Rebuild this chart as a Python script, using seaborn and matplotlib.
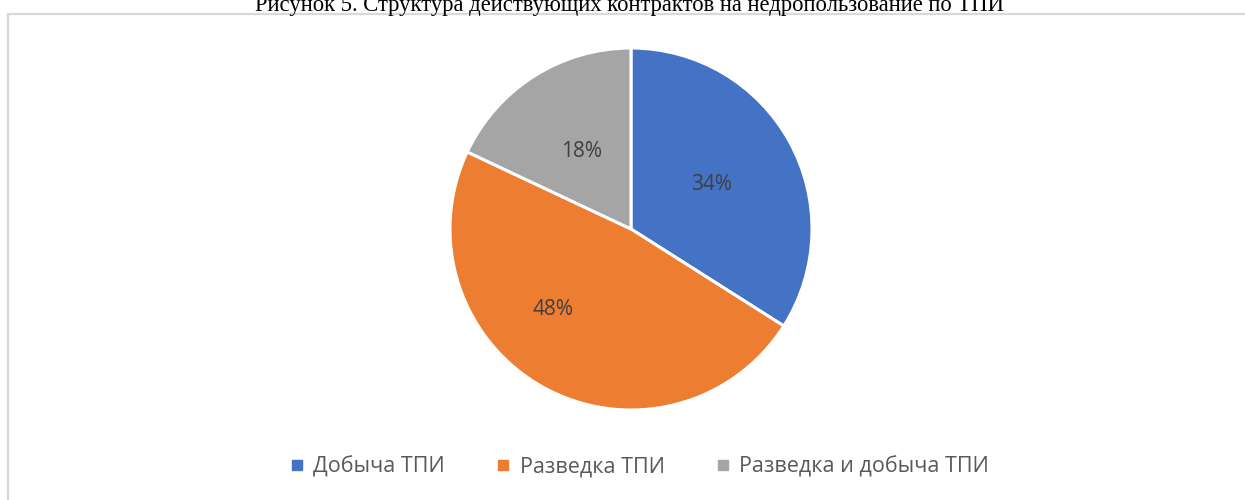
import numpy as np
import matplotlib
matplotlib.use("Agg")
import matplotlib.pyplot as plt
from matplotlib.lines import Line2D
from matplotlib.patches import Rectangle
import seaborn as sns

# Data
categories = ["Добыча ТПИ", "Разведка ТПИ", "Разведка и добыча ТПИ"]
shares = [34, 48, 18]
colors = ["#4472C4", "#ED7D31", "#A5A5A5"]
title = "Рисунок 5. Структура действующих контрактов на недропользование по ТПИ"

sns.set_theme(style="white")
plt.rcParams["font.family"] = ["Open Sans", "DejaVu Sans"]

W, H = 1245, 500
fig = plt.figure(figsize=(W / 100, H / 100), dpi=100)

# Chart-area border (light gray, cut off at right/bottom)
fig.patches.append(Rectangle((8 / W, -0.05), 1.05, 1 - 14 / H + 0.05,
                             transform=fig.transFigure, fill=False,
                             edgecolor="#d9d9d9", linewidth=1.6, zorder=0))

# Title (partially cut off at the top, as in the source)
fig.text(0.506, 1 - 11 / H, title, ha="center", va="baseline",
         fontsize=16.3, family=["Liberation Serif", "DejaVu Serif"], color="black")

# Pie
cx, cy, r = 631, 229, 181
ax = fig.add_axes([(cx - r) / W, (H - cy - r) / H, 2 * r / W, 2 * r / H])
wedges, texts, autotexts = ax.pie(
    shares, colors=colors, startangle=90, counterclock=False,
    autopct=lambda p: f"{p:.0f}%", pctdistance=0.51,
    wedgeprops=dict(edgecolor="white", linewidth=2.2),
    textprops=dict(color="#404040", fontsize=15),
)
ax.set_xlim(-1, 1)
ax.set_ylim(-1, 1)
ax.set_aspect("equal")

# Excel nudges the big slice's label a bit
ang = np.deg2rad(-134)
autotexts[1].set_position((0.62 * np.cos(ang), 0.62 * np.sin(ang)))

# Legend
handles = [Line2D([0], [0], marker="s", linestyle="", markersize=7,
                  markerfacecolor=c, markeredgecolor=c) for c in colors]
leg = fig.legend(handles, categories, loc="center", bbox_to_anchor=(0.513, 1 - 467 / H),
                 ncol=3, frameon=False, fontsize=15.5, handlelength=0.8,
                 handletextpad=0.35, columnspacing=2.3)
for t in leg.get_texts():
    t.set_color("#595959")

fig.savefig("out.png", dpi=100)
